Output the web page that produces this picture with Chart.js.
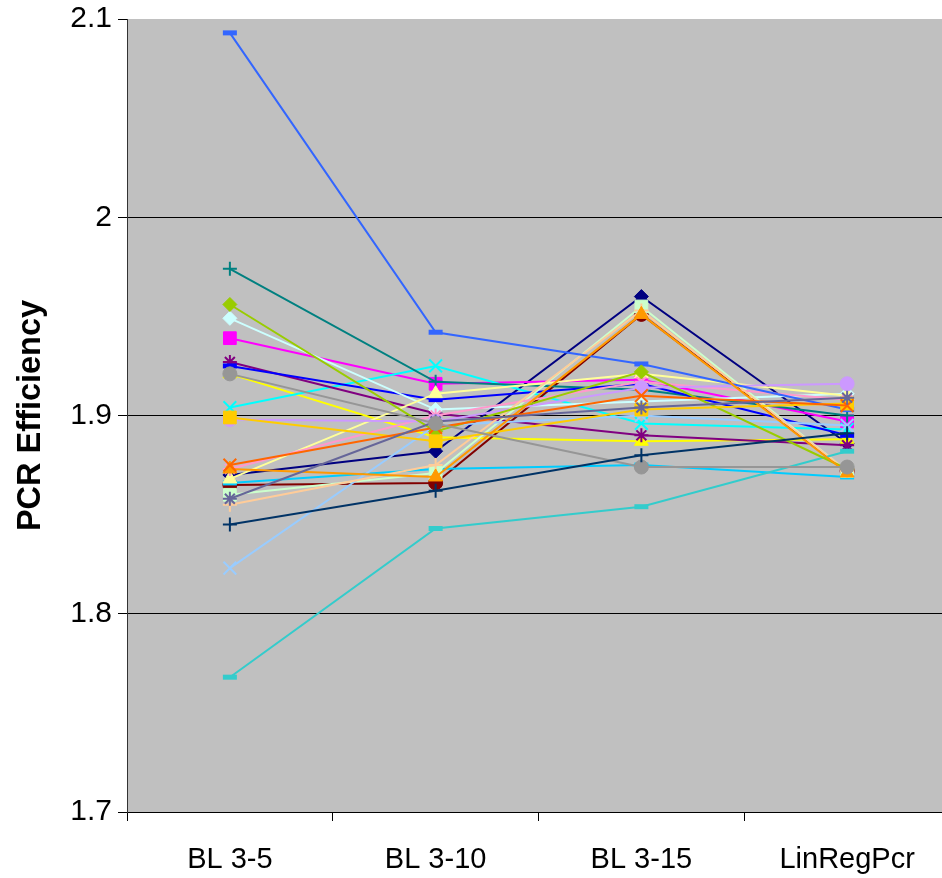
<!DOCTYPE html>
<html>
<head>
<meta charset="utf-8">
<script src="https://cdn.jsdelivr.net/npm/chart.js@4/dist/chart.umd.min.js"></script>
<style>
html,body{margin:0;padding:0;background:#fff;overflow:hidden;}
#wrap{width:942px;height:878px;position:relative;overflow:hidden;}
canvas{display:block;}
</style>
</head>
<body>
<div id="wrap"><canvas id="c" width="950" height="878"></canvas></div>
<script>
const categories = ["BL 3-5", "BL 3-10", "BL 3-15", "LinRegPcr"];
const yTicks = [1.7, 1.8, 1.9, 2.0, 2.1];

const s01 = [1.870, 1.882, 1.960, 1.886];
const s02 = [1.939, 1.916, 1.918, 1.897];
const s03 = [1.921, 1.889, 1.887, 1.888];
const s04 = [1.904, 1.925, 1.896, 1.893];
const s05 = [1.927, 1.901, 1.890, 1.885];
const s06 = [1.865, 1.866, 1.951, 1.872];
const s07 = [1.974, 1.917, 1.913, 1.900];
const s08 = [1.925, 1.908, 1.916, 1.890];
const s09 = [1.866, 1.873, 1.875, 1.869];
const s10 = [1.949, 1.903, 1.907, 1.911];
const s11 = [1.860, 1.871, 1.955, 1.872];
const s12 = [1.868, 1.911, 1.921, 1.910];
const s13 = [1.823, 1.895, 1.900, 1.895];
const s14 = [1.873, 1.900, 1.917, 1.908];
const s15 = [1.898, 1.897, 1.914, 1.916];
const s16 = [1.855, 1.875, 1.953, 1.872];
const s17 = [2.093, 1.942, 1.926, 1.903];
const s18 = [1.768, 1.843, 1.854, 1.882];
const s19 = [1.956, 1.892, 1.922, 1.873];
const s20 = [1.899, 1.887, 1.903, 1.906];
const s21 = [1.873, 1.869, 1.951, 1.871];
const s22 = [1.875, 1.894, 1.910, 1.905];
const s23 = [1.858, 1.897, 1.904, 1.909];
const s24 = [1.921, 1.896, 1.874, 1.874];
const s25 = [1.845, 1.862, 1.880, 1.891];

const seriesValues = [s01,s02,s03,s04,s05,s06,s07,s08,s09,s10,s11,s12,s13,s14,s15,s16,s17,s18,s19,s20,s21,s22,s23,s24,s25];
const seriesColors = ["#000080","#FF00FF","#FFFF00","#00FFFF","#800080","#800000","#008080","#0000FF","#00CCFF",
  "#CCFFFF","#CCFFCC","#FFFF99","#99CCFF","#FF99CC","#CC99FF","#FFCC99","#3366FF","#33CCCC","#99CC00",
  "#FFCC00","#FF9900","#FF6600","#666699","#969696","#003366"];
const markerCycle = ["rectRot","rect","triangle","crossRot","star","circle","cross","line","line"];

const styleRadius = {rectRot:7, rect:9, triangle:8, crossRot:9, star:7, circle:7, cross:7, line:7};
const styleBorder = {rectRot:1, rect:1, triangle:1, crossRot:2, star:2, circle:1, cross:2, line:5};

const N = seriesValues.length;
const datasets = seriesValues.map((vals, i) => {
  const st = markerCycle[i % markerCycle.length];
  const col = seriesColors[i];
  return {
    label: "Series " + (i+1),
    data: vals,
    borderColor: col,
    backgroundColor: col,
    borderWidth: 2,
    pointStyle: st,
    pointRadius: styleRadius[st],
    pointHoverRadius: styleRadius[st],
    pointBorderWidth: styleBorder[st],
    pointBorderColor: col,
    pointBackgroundColor: col,
    tension: 0,
    clip: false,
    order: N - i
  };
});

const bgPlugin = {
  id: 'plotBg',
  beforeDraw(chart) {
    const a = chart.chartArea, ctx = chart.ctx;
    ctx.save();
    ctx.fillStyle = '#C0C0C0';
    ctx.fillRect(a.left, a.top, a.right - a.left, a.bottom - a.top);
    ctx.restore();
  }
};

const FONT = 'Liberation Sans, Arial, sans-serif';

new Chart(document.getElementById('c'), {
  type: 'line',
  data: { labels: categories, datasets },
  plugins: [bgPlugin],
  options: {
    responsive: false,
    animation: false,
    events: [],
    layout: { autoPadding: false, padding: { top: 19, right: 0, left: 0, bottom: 0 } },
    plugins: { legend: { display: false }, tooltip: { enabled: false } },
    scales: {
      x: {
        offset: true,
        grid: { offset: true, drawOnChartArea: false, drawTicks: true, tickLength: 9, color: '#000', lineWidth: 1 },
        border: { color: '#000', width: 1 },
        ticks: { color: '#000', font: { family: FONT, size: 29 }, padding: 22, maxRotation: 0, autoSkip: false },
        afterFit(scale) { scale.height = 66; scale.paddingLeft = 0; scale.paddingRight = 0; }
      },
      y: {
        min: 1.7, max: 2.1,
        afterBuildTicks(scale) { scale.ticks = yTicks.map(v => ({ value: v })); },
        grid: {
          color: (ctx) => (ctx.tick && Math.abs(ctx.tick.value - 2.1) < 1e-6) ? 'rgba(0,0,0,0)' : '#000',
          tickColor: '#000',
          lineWidth: 1, tickLength: 9
        },
        border: { color: '#333', width: 1 },
        ticks: {
          color: '#000', font: { family: FONT, size: 30 }, padding: 6,
          callback: (v) => String(Math.round(v * 10) / 10)
        },
        title: {
          display: true, text: 'PCR Efficiency', color: '#000',
          font: { family: FONT, size: 32.5, weight: 'bold' },
          padding: { top: 12, bottom: 0 }
        },
        afterFit(scale) { scale.width = 127; scale.paddingTop = 0; scale.paddingBottom = 0; }
      }
    }
  }
});
</script>
</body>
</html>
